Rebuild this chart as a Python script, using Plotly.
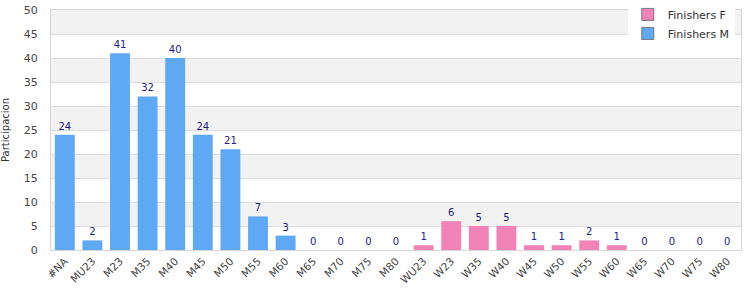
import plotly.graph_objects as go

categories = ["#NA", "MU23", "M23", "M35", "M40", "M45", "M50", "M55", "M60", "M65", "M70", "M75", "M80",
              "WU23", "W23", "W35", "W40", "W45", "W50", "W55", "W60", "W65", "W70", "W75", "W80"]
finishers_m = [24, 2, 41, 32, 40, 24, 21, 7, 3, 0, 0, 0, 0,
               None, None, None, None, None, None, None, None, None, None, None, None]
finishers_f = [None, None, None, None, None, None, None, None, None, None, None, None, None,
               1, 6, 5, 5, 1, 1, 2, 1, 0, 0, 0, 0]
y_ticks = [0, 5, 10, 15, 20, 25, 30, 35, 40, 45, 50]

FONT = "DejaVu Sans"
LABEL_COLOR = "#1c1c8a"
COLOR_F = "#f283b6"
COLOR_M = "#5fa8f3"

def labels(vals):
    return ["" if v is None else str(v) for v in vals]

fig = go.Figure()
for name, vals, col in [("Finishers F", finishers_f, COLOR_F), ("Finishers M", finishers_m, COLOR_M)]:
    fig.add_trace(go.Bar(
        name=name, x=categories, y=vals, text=labels(vals),
        textposition="outside", cliponaxis=False, showlegend=False,
        textfont=dict(family=FONT, size=10, color=LABEL_COLOR),
        marker=dict(color=col, line=dict(width=0)),
    ))
# legend entries (gray-bordered swatches)
for name, col in [("Finishers F", COLOR_F), ("Finishers M", COLOR_M)]:
    fig.add_trace(go.Bar(
        name=name, x=[categories[0]], y=[None], showlegend=True,
        marker=dict(color=col, line=dict(width=1, color="#777")),
    ))

shapes = []
for lo in range(5, 50, 10):
    shapes.append(dict(type="rect", xref="paper", yref="y", x0=0, x1=1, y0=lo, y1=lo + 5,
                       fillcolor="#f2f2f2", line=dict(width=0), layer="below"))

fig.update_layout(
    width=750, height=300,
    margin=dict(l=51, r=9, t=10, b=50, autoexpand=False),
    paper_bgcolor="white", plot_bgcolor="white",
    barmode="overlay", bargap=0.28,
    font=dict(family=FONT, size=10, color="#444"),
    shapes=shapes,
    showlegend=True,
    legend=dict(x=0.991, xanchor="right", y=1.042, yanchor="top", bgcolor="white",
                font=dict(family=FONT, size=11, color="#333"),
                itemwidth=30, tracegroupgap=0, traceorder="normal"),
    xaxis=dict(type="category", tickangle=-45, showline=True, linecolor="#d6d6d6", linewidth=1,
               mirror=True, showgrid=False, ticks="", tickfont=dict(size=10.5, color="#444")),
    yaxis=dict(range=[0, 50], tickvals=y_ticks, showline=True, linecolor="#d6d6d6", linewidth=1,
               mirror=True, showgrid=True, gridcolor="#dcdcdc", zeroline=False,
               ticks="outside", ticklen=10, tickcolor="rgba(0,0,0,0)",
               tickfont=dict(size=11, color="#444"),
               title=dict(text="Participacion", font=dict(size=10, color="#333"), standoff=12)),
)

fig.write_html("out.html")
